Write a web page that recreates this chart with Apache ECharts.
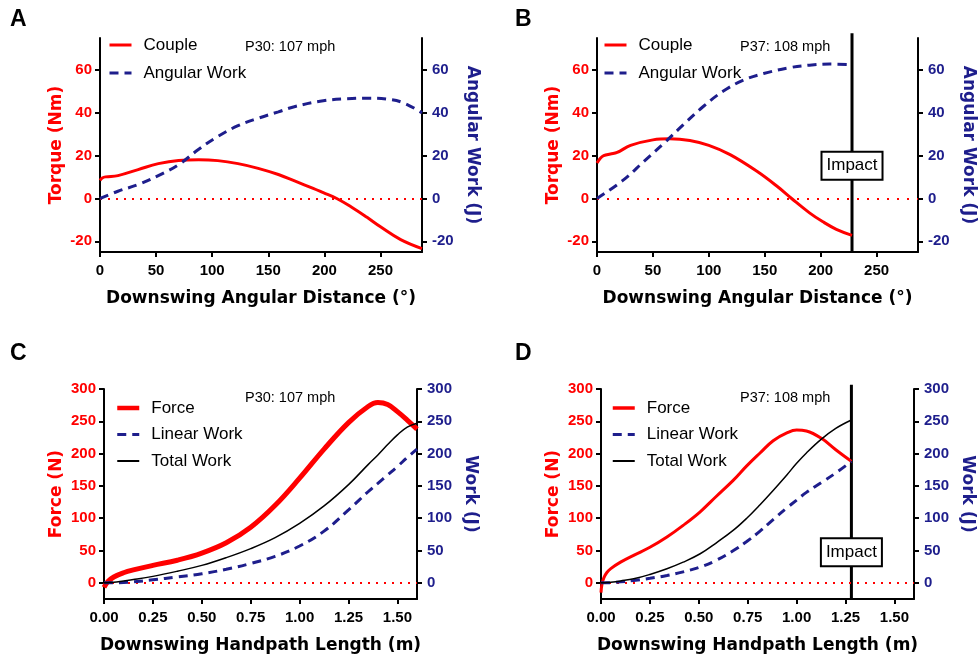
<!DOCTYPE html>
<html><head><meta charset="utf-8">
<script src="https://cdn.jsdelivr.net/npm/echarts@6/dist/echarts.min.js"></script>
<style>html,body{margin:0;padding:0;background:#fff}#c{width:979px;height:657px}</style>
</head><body><div id="c"></div>
<script>
// ---------- DATA ----------
// Panel A (P30)
const angleA = [0, 2, 5, 16, 34, 52, 70, 88, 105, 123, 141, 159, 174, 190, 199, 211, 225, 238, 250, 268, 287];
const coupleA = [8.5, 9.6, 10.1, 10.7, 13.5, 16.3, 17.8, 18.1, 17.7, 16.3, 14.1, 11.2, 8.1, 4.7, 2.7, 0, -4.3, -8.8, -13.2, -19.2, -23.4];
const workAngleA = [0, 16, 34, 52, 70, 88, 105, 123, 141, 159, 174, 199, 220, 240, 255, 270, 287];
const workA = [0, 3.4, 6.5, 10.7, 15.8, 23, 29, 34, 37.5, 40.5, 43, 45.7, 46.6, 46.9, 46.5, 44.8, 40];
// Panel B (P37)
const angleB = [0, 3, 6, 12, 18, 30, 50, 65, 83, 100, 119, 143, 161, 174, 190, 202, 214, 228];
const coupleB = [16.6, 18.8, 20, 20.8, 21.5, 24.8, 27.4, 27.9, 27.1, 24.8, 20.5, 12.7, 5.7, 0, -6.7, -10.9, -14.4, -17.2];
const workAngleB = [0, 24, 42, 60, 77, 95, 113, 131, 149, 173, 190, 208, 228];
const workB = [0, 8.8, 17.4, 25.9, 34.4, 43, 50.2, 55.3, 58.4, 61.2, 62.3, 62.8, 62.6];
// Panel C (P30)
const lenC = [0, 0.02, 0.05, 0.1, 0.15, 0.25, 0.375, 0.5, 0.625, 0.75, 0.875, 1.0, 1.125, 1.25, 1.35, 1.4, 1.45, 1.5, 1.55, 1.6];
const forceC = [-7, 2, 9, 15.6, 20, 27, 35, 46, 62, 86, 120, 162, 207, 248, 273, 279, 276, 265, 252, 238];
const totalC = [0, 0.3, 1, 3, 5, 10, 18, 27, 39, 53, 70, 92, 119, 152, 183, 198, 214, 229, 241, 247];
const linearC = [0, 0, 0.1, 0.5, 1.5, 4.7, 9, 14, 21, 30, 41, 57, 80, 113, 141, 154, 167, 180, 194, 207];
// Panel D (P37)
const lenD = [0, 0.005, 0.015, 0.03, 0.05, 0.1, 0.167, 0.25, 0.337, 0.42, 0.507, 0.59, 0.677, 0.745, 0.813, 0.88, 0.95, 1.0, 1.05, 1.125, 1.2, 1.28];
const forceD = [-15, -2, 8, 16, 22, 32, 42.6, 55, 71, 89, 110, 134, 159, 181, 201, 220, 232, 236.5, 235, 224, 206, 188];
const totalD = [0, 0, 0.2, 0.5, 1, 3, 6.2, 13, 21.8, 32, 45, 62, 81.5, 100, 121, 143, 167, 185, 201, 222, 239, 252];
const linearD = [0, 0, 0, 0.1, 0.3, 1.5, 3.6, 7, 11.4, 17, 24.4, 35, 50, 64, 80, 98, 116, 128, 140, 155, 170, 188];
// Impact markers
const impactB = 228, impactLabelB = 15.3;
const impactD = 1.28, impactLabelD = 47.2;
// Tick values
const xTicksAB = [0, 50, 100, 150, 200, 250];
const yTicksAB = [-20, 0, 20, 40, 60];
const xTicksCD = [0, 0.25, 0.5, 0.75, 1.0, 1.25, 1.5];
const yTicksCD = [0, 50, 100, 150, 200, 250, 300];
// Texts
const panelLetters = ['A', 'B', 'C', 'D'];
const subjectA = 'P30: 107 mph', subjectB = 'P37: 108 mph';

// ---------- STYLE ----------
const RED = '#ff0000', NAVY = '#1e1e8c', BLACK = '#000000';
const tickFont = {fontFamily: 'Liberation Sans, Arial, sans-serif', fontWeight: 'bold', fontSize: 15};
const nameFont = {fontFamily: 'DejaVu Sans, Verdana, sans-serif', fontWeight: 'bold', fontSize: 17};
const DASH = [9, 6];

function xAx(grid, max, ticks, name, fmt) {
  return {
    type: 'value', gridIndex: grid, min: 0, max: max,
    name: name, nameLocation: 'middle', nameGap: 38,
    nameTextStyle: Object.assign({color: BLACK}, nameFont),
    axisLine: {show: true, onZero: false, lineStyle: {color: BLACK, width: 2}},
    axisTick: {show: true, length: 5, customValues: ticks, lineStyle: {color: BLACK, width: 2}},
    axisLabel: Object.assign({customValues: ticks, margin: 11, color: BLACK, formatter: fmt}, tickFont),
    splitLine: {show: false}
  };
}
function yAx(grid, pos, min, max, ticks, name, color, gap, rot) {
  const o = {
    type: 'value', gridIndex: grid, position: pos, min: min, max: max,
    name: name, nameLocation: 'middle', nameGap: gap,
    nameTextStyle: Object.assign({color: color}, nameFont),
    axisLine: {show: true, onZero: false, lineStyle: {color: BLACK, width: 2}},
    axisTick: {show: true, length: 5, customValues: ticks, lineStyle: {color: BLACK, width: 2}},
    axisLabel: Object.assign({customValues: ticks, margin: pos === 'left' ? 8 : 10, color: color}, tickFont),
    splitLine: {show: false}
  };
  if (rot !== undefined) o.nameRotate = rot;
  return o;
}
function pairs(xs, ys) { return xs.map((x, i) => [x, ys[i]]); }
function ln(name, xs, ys, xi, yi, color, width, type, z) {
  return {
    type: 'line', name: name, xAxisIndex: xi, yAxisIndex: yi, data: pairs(xs, ys),
    smooth: 0.4, showSymbol: false, symbol: 'none',
    lineStyle: {color: color, width: width, type: type}, itemStyle: {color: color},
    z: z, animation: false, silent: true
  };
}
const zeroLine = (gap) => ({
  silent: true, symbol: ['none', 'none'], label: {show: false}, animation: false,
  lineStyle: {color: RED, type: [2, gap], width: 2.2}, data: [{yAxis: 0}]
});
function impactLine(xi, yi, xv, y0, y1) {
  return {type: 'line', xAxisIndex: xi, yAxisIndex: yi, data: [[xv, y0], [xv, y1]], clip: false,
    symbol: 'none', lineStyle: {color: BLACK, width: 3}, z: 4, animation: false, silent: true};
}
function impactLabel(xi, yi, xv, yv) {
  return {type: 'scatter', xAxisIndex: xi, yAxisIndex: yi, data: [[xv, yv]], symbolSize: 0,
    silent: true, z: 10, animation: false, itemStyle: {opacity: 1},
    label: {show: true, position: 'inside', formatter: 'Impact', color: BLACK, opacity: 1,
      fontFamily: 'Liberation Sans, Arial, sans-serif', fontSize: 17,
      backgroundColor: '#fff', borderColor: BLACK, borderWidth: 2, padding: [5, 4, 4, 4]}};
}
function legend(left, top, items, gap) {
  return {
    left: left, top: top, orient: 'vertical', padding: 0, itemWidth: 22, itemHeight: 14, itemGap: gap,
    data: items, selectedMode: false, itemStyle: {opacity: 0},
    textStyle: {fontFamily: 'Liberation Sans, Arial, sans-serif', fontSize: 17, color: BLACK, lineHeight: 20, padding: [0, 0, 0, 7]}
  };
}
function txt(left, top, text, size, bold) {
  return {type: 'text', left: left, top: top, silent: true,
    style: {text: text, fill: BLACK, font: (bold ? 'bold ' : '') + size + 'px "Liberation Sans", Arial, sans-serif'}};
}
const li = (name, w) => ({name: name, lineStyle: {width: w}});

const fmt2 = v => v.toFixed(2);
const option = {
  backgroundColor: '#fff',
  animation: false,
  grid: [
    {left: 100, top: 38, width: 322, height: 214},
    {left: 597, top: 38, width: 321, height: 214},
    {left: 104, top: 389, width: 313, height: 210},
    {left: 601, top: 389, width: 313, height: 210}
  ],
  xAxis: [
    xAx(0, 287, xTicksAB, 'Downswing Angular Distance (°)'),
    xAx(1, 287, xTicksAB, 'Downswing Angular Distance (°)'),
    xAx(2, 1.6, xTicksCD, 'Downswing Handpath Length (m)', fmt2),
    xAx(3, 1.6, xTicksCD, 'Downswing Handpath Length (m)', fmt2)
  ],
  yAxis: [
    yAx(0, 'left', -25, 75, yTicksAB, 'Torque (Nm)', RED, 35),
    yAx(0, 'right', -25, 75, yTicksAB, 'Angular Work (J)', NAVY, 42, -90),
    yAx(1, 'left', -25, 75, yTicksAB, 'Torque (Nm)', RED, 35),
    yAx(1, 'right', -25, 75, yTicksAB, 'Angular Work (J)', NAVY, 42, -90),
    yAx(2, 'left', -25, 300, yTicksCD, 'Force (N)', RED, 39),
    yAx(2, 'right', -25, 300, yTicksCD, 'Work (J)', NAVY, 45, -90),
    yAx(3, 'left', -25, 300, yTicksCD, 'Force (N)', RED, 39),
    yAx(3, 'right', -25, 300, yTicksCD, 'Work (J)', NAVY, 45, -90)
  ],
  legend: [
    legend(108, 35, [li('Couple', 3), li('Angular Work', 3)], 8),
    legend(603, 35, [li('Couple', 3), li('Angular Work', 3)], 8),
    legend(115, 398, [li('Force', 4.5), li('Linear Work', 3), li('Total Work', 2)], 6.5),
    legend(611, 398, [li('Force', 3.5), li('Linear Work', 3), li('Total Work', 2)], 6.5)
  ],
  series: [
    Object.assign(ln('Couple', angleA, coupleA, 0, 0, RED, 3, 'solid', 5), {markLine: zeroLine(6)}),
    ln('Angular Work', workAngleA, workA, 0, 1, NAVY, 3, DASH, 6),
    Object.assign(ln('Couple', angleB, coupleB, 1, 2, RED, 3, 'solid', 5), {markLine: zeroLine(8)}),
    ln('Angular Work', workAngleB, workB, 1, 3, NAVY, 3, DASH, 6),
    impactLine(1, 2, impactB, -25, 77.2),
    impactLabel(1, 2, impactB, impactLabelB),
    Object.assign(ln('Force', lenC, forceC, 2, 4, RED, 5, 'solid', 5), {markLine: zeroLine(6)}),
    ln('Linear Work', lenC, linearC, 2, 5, NAVY, 3, DASH, 6),
    ln('Total Work', lenC, totalC, 2, 5, BLACK, 1.5, 'solid', 6),
    Object.assign(ln('Force', lenD, forceD, 3, 6, RED, 3, 'solid', 5), {markLine: zeroLine(6)}),
    ln('Linear Work', lenD, linearD, 3, 7, NAVY, 3, DASH, 6),
    ln('Total Work', lenD, totalD, 3, 7, BLACK, 1.5, 'solid', 6),
    impactLine(3, 6, impactD, -25, 306.7),
    impactLabel(3, 6, impactD, impactLabelD)
  ],
  graphic: [
    txt(10, 8, panelLetters[0], 23, true),
    txt(515, 8, panelLetters[1], 23, true),
    txt(10, 342, panelLetters[2], 23, true),
    txt(515, 342, panelLetters[3], 23, true),
    txt(245, 39, subjectA, 14.5, false),
    txt(740, 39, subjectB, 14.5, false),
    txt(245, 390, subjectA, 14.5, false),
    txt(740, 390, subjectB, 14.5, false)
  ]
};
const chart = echarts.init(document.getElementById('c'), null, {renderer: 'canvas'});
chart.setOption(option);
</script>
</body></html>
